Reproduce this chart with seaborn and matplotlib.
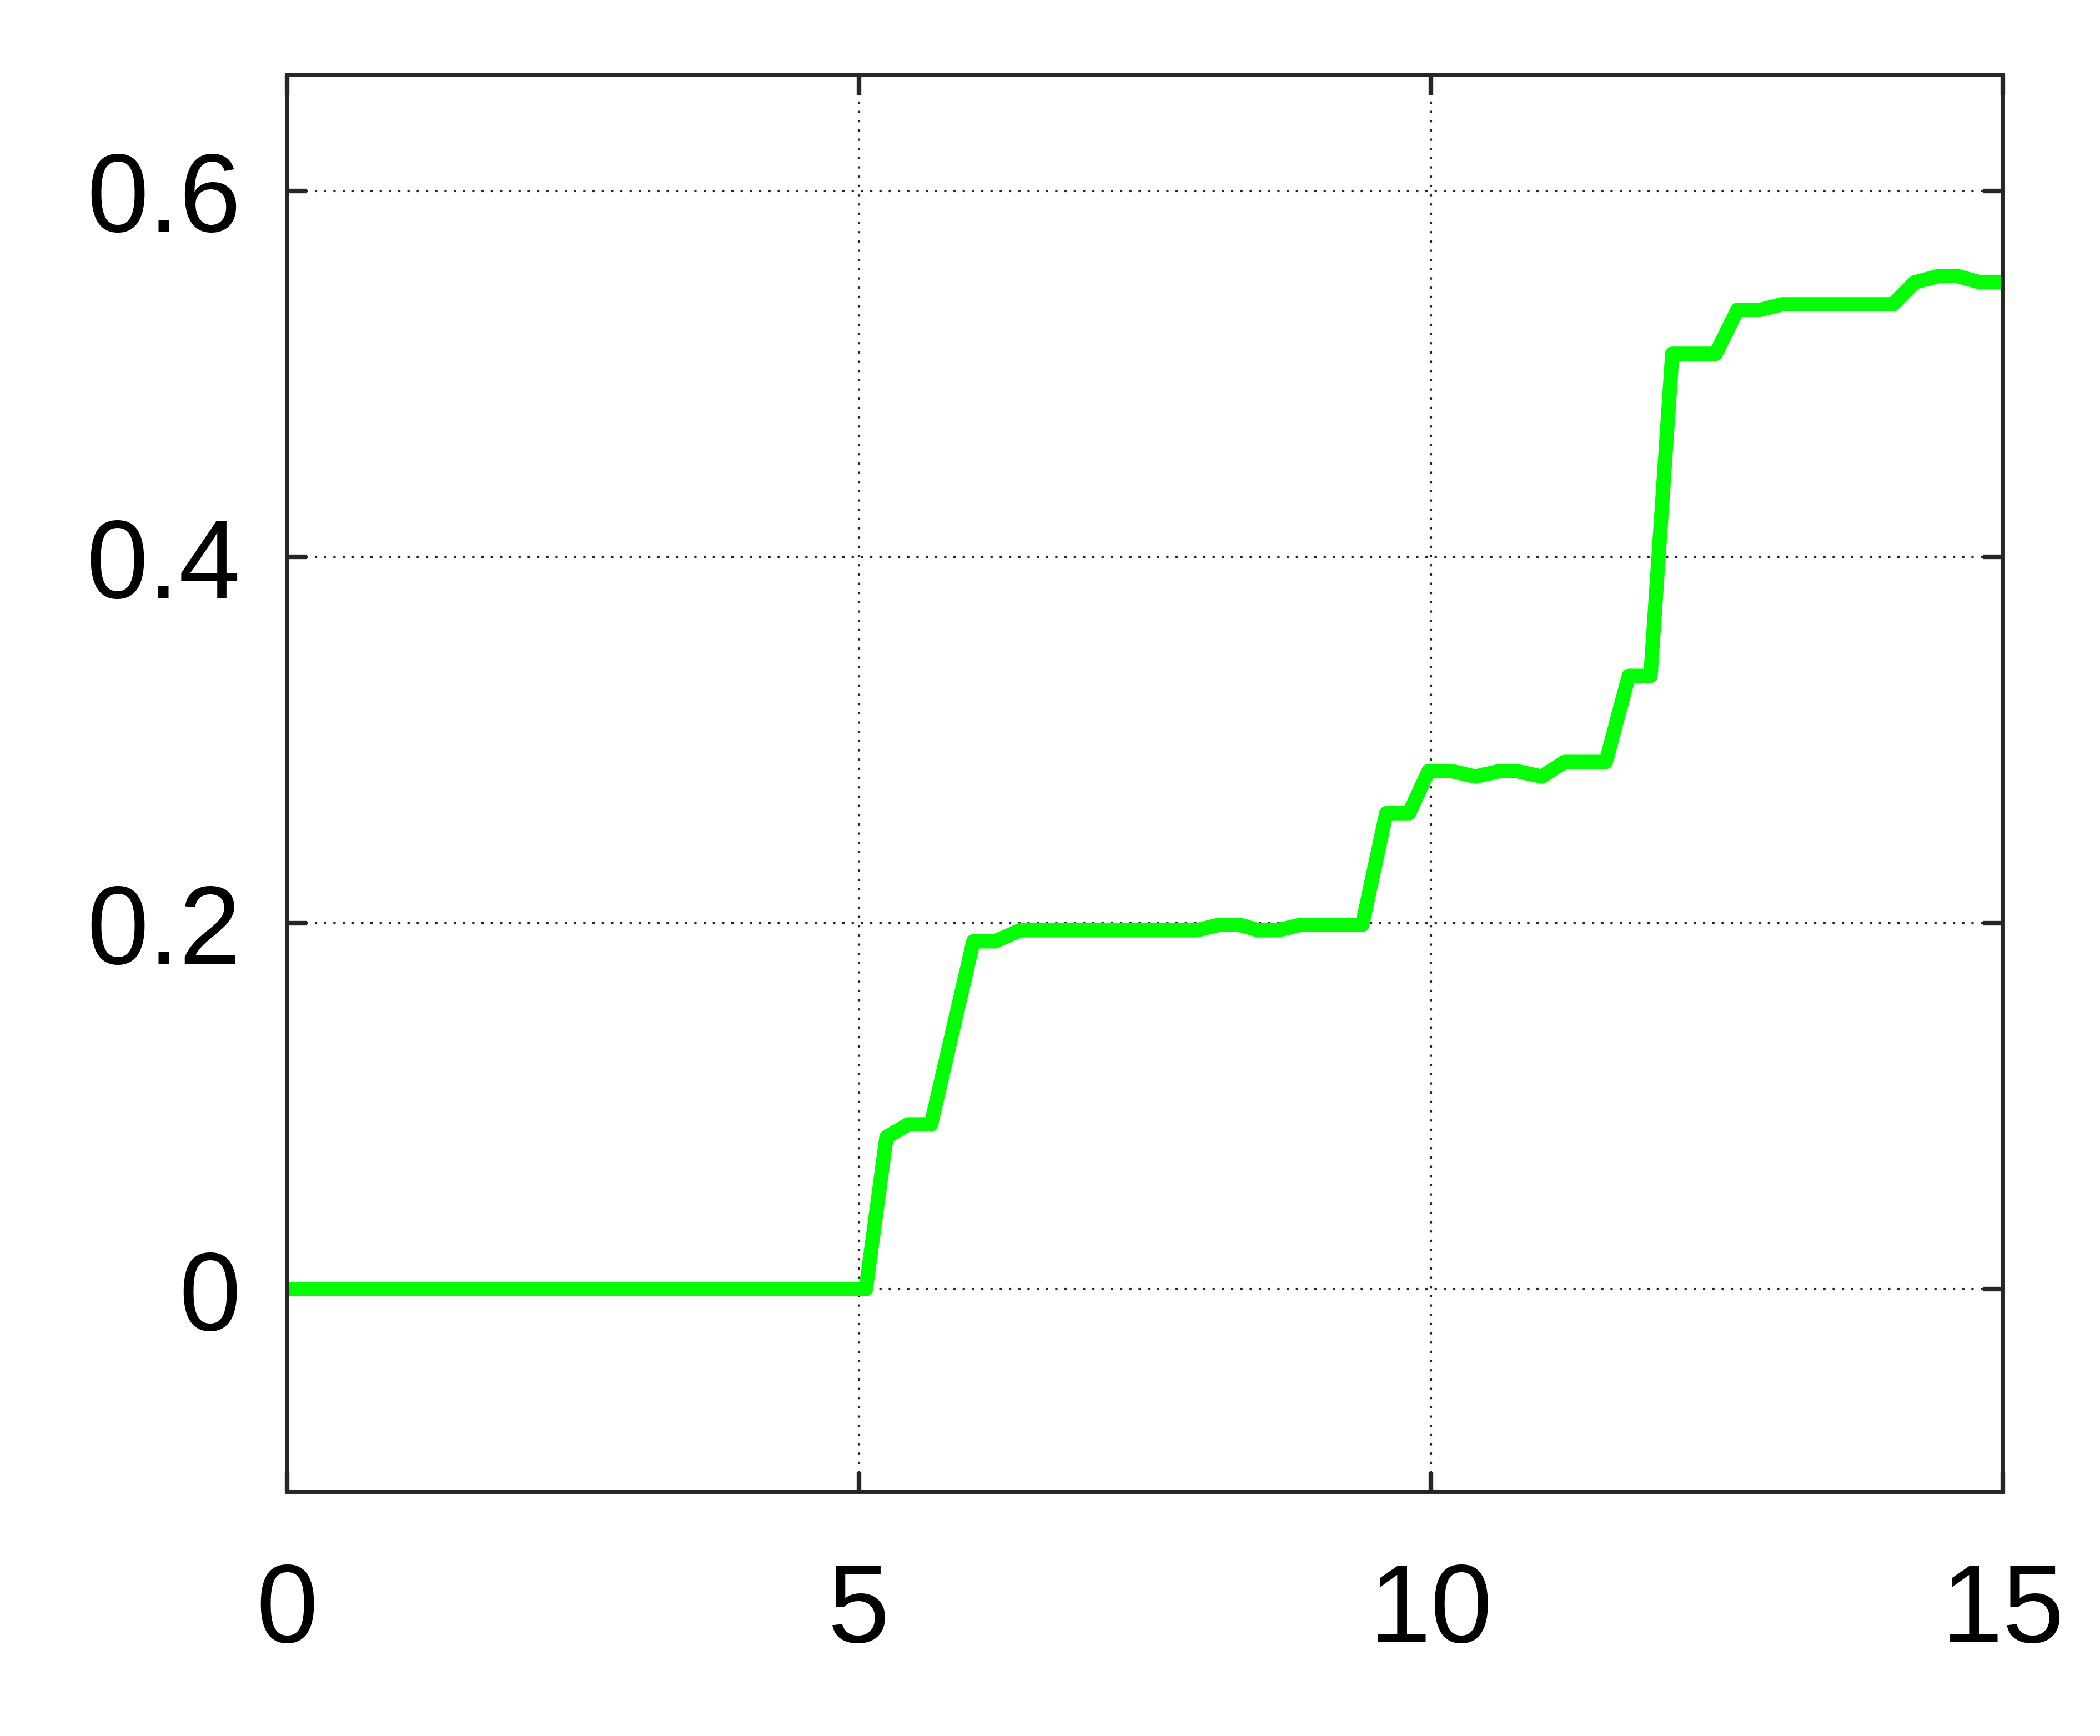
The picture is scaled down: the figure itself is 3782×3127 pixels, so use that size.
import numpy as np
import pandas as pd
import matplotlib
matplotlib.use("Agg")
import matplotlib.pyplot as plt
import seaborn as sns

# values (vertices of the green curve)
t = [0.0, 5.06, 5.24, 5.43, 5.63, 6.00, 6.19, 6.41, 7.95, 8.15, 8.33, 8.49,
     8.66, 8.86, 9.40, 9.61, 9.81, 9.98, 10.18, 10.39, 10.60, 10.75, 10.97,
     11.17, 11.53, 11.73, 11.92, 12.11, 12.49, 12.68, 12.88, 13.07, 14.04,
     14.23, 14.44, 14.60, 14.80, 15.0]
val = [0.0, 0.0, 0.083, 0.090, 0.090, 0.190, 0.190, 0.196, 0.196, 0.199,
       0.199, 0.196, 0.196, 0.199, 0.199, 0.260, 0.260, 0.283, 0.283, 0.280,
       0.283, 0.283, 0.280, 0.288, 0.288, 0.335, 0.335, 0.511, 0.511, 0.535,
       0.535, 0.538, 0.538, 0.550, 0.5535, 0.5535, 0.550, 0.550]

xticks = [0, 5, 10, 15]
yticks = [0, 0.2, 0.4, 0.6]
ytick_labels = ["0", "0.2", "0.4", "0.6"]

df = pd.DataFrame({"t": t, "val": val})

sns.set_style("ticks")
plt.rcParams["font.family"] = ["Liberation Sans", "DejaVu Sans"]

dpi = 300
fig = plt.figure(figsize=(3782 / dpi, 3128 / dpi), dpi=dpi)
ax = fig.add_axes([517 / 3782, 1 - 2688 / 3128, 3090 / 3782, 2552 / 3128])

sns.lineplot(data=df, x="t", y="val", ax=ax, color="#00ff00",
             estimator=None, sort=False)
for l in ax.get_lines():
    l.set_linewidth(6.2)
    l.set_solid_joinstyle("round")

ax.set_xlim(0, 15)
ax.set_ylim(-0.1107, 0.6633)
ax.set_xticks(xticks)
ax.set_xticklabels([str(v) for v in xticks])
ax.set_yticks(yticks)
ax.set_yticklabels(ytick_labels)
ax.set_xlabel("")
ax.set_ylabel("")

ax.grid(True, color="#262626", linestyle=(0, (1, 3)), linewidth=1.0)

for s in ax.spines.values():
    s.set_visible(True)
    s.set_linewidth(1.9)
    s.set_color("#262626")

ax.tick_params(axis="both", direction="in", length=8.6, width=2.0,
               color="#262626", top=True, right=True, labelsize=48,
               labelcolor="black")
ax.tick_params(axis="y", pad=20)
ax.tick_params(axis="x", pad=30)

fig.savefig("out.png", dpi=dpi, facecolor="white")
